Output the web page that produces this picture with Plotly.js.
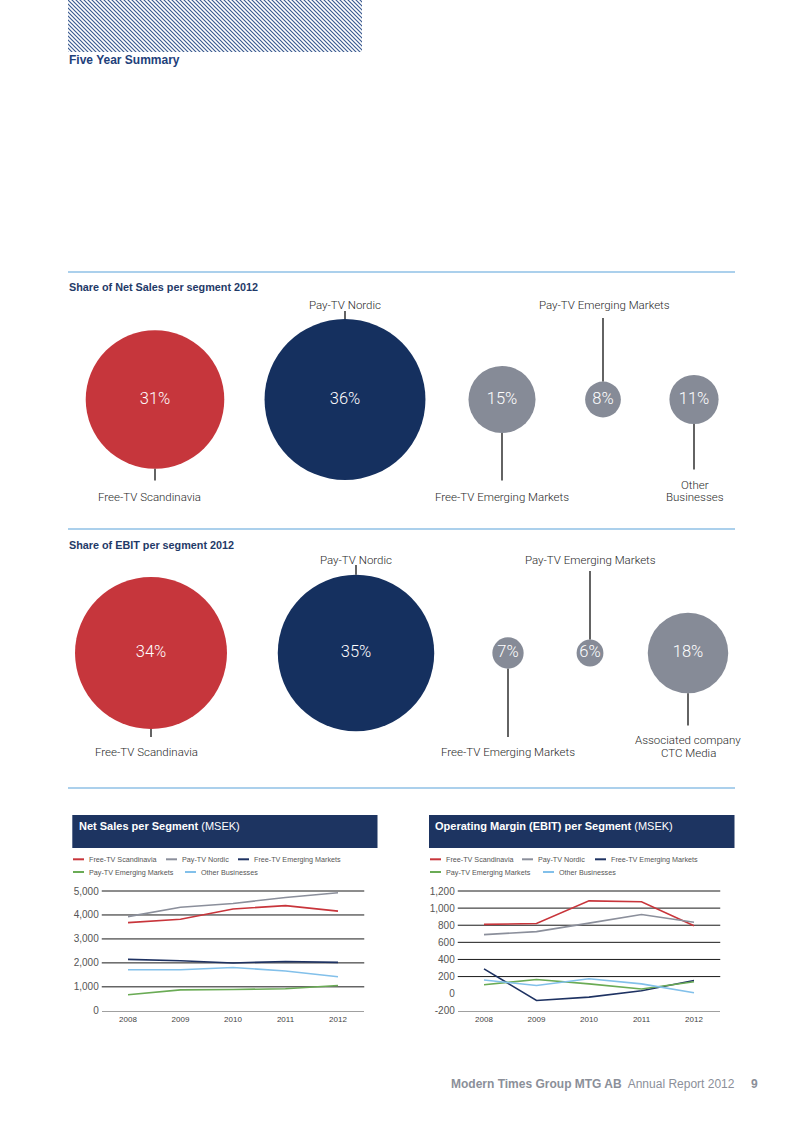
<!DOCTYPE html>
<html><head><meta charset="utf-8">
<script src="https://cdn.plot.ly/plotly-3.0.1.min.js"></script>
<style>html,body{margin:0;padding:0;background:#fff}#chart{width:800px;height:1131px}</style>
</head><body><div id="chart"></div>
<script>
// ---------------- DATA ----------------
const years = [2008, 2009, 2010, 2011, 2012];
const segments = ['Free-TV Scandinavia', 'Pay-TV Nordic', 'Free-TV Emerging Markets', 'Pay-TV Emerging Markets', 'Other Businesses'];

const salesFreeTVScan  = [3680, 3820, 4250, 4390, 4160];
const salesPayTVNordic = [3930, 4320, 4480, 4730, 4930];
const salesFreeTVEM    = [2145, 2090, 1995, 2060, 2020];
const salesPayTVEM     = [670, 875, 890, 920, 1055];
const salesOther       = [1715, 1715, 1810, 1660, 1420];

const ebitFreeTVScan  = [810, 820, 1085, 1075, 795];
const ebitPayTVNordic = [690, 725, 825, 925, 835];
const ebitFreeTVEM    = [290, -80, -40, 35, 155];
const ebitPayTVEM     = [105, 165, 115, 55, 140];
const ebitOther       = [160, 95, 175, 115, 10];

const salesShareLabels = [['Free-TV Scandinavia'], ['Pay-TV Nordic'], ['Free-TV Emerging Markets'], ['Pay-TV Emerging Markets'], ['Other', 'Businesses']];
const salesShares = [31, 36, 15, 8, 11];
const ebitShareLabels = [['Free-TV Scandinavia'], ['Pay-TV Nordic'], ['Free-TV Emerging Markets'], ['Pay-TV Emerging Markets'], ['Associated company', 'CTC Media']];
const ebitShares = [34, 35, 7, 6, 18];

const salesTicks = [0, 1000, 2000, 3000, 4000, 5000];
const salesTickText = ['0', '1,000', '2,000', '3,000', '4,000', '5,000'];
const ebitTicks = [-200, 0, 200, 400, 600, 800, 1000, 1200];
const ebitTickText = ['-200', '0', '200', '400', '600', '800', '1,000', '1,200'];

// ---------------- STYLE / LAYOUT ----------------
const W = 800, H = 1131;
const FONT = '"Liberation Sans", Arial, Helvetica, sans-serif';
const LIGHT = 'Roboto, "Liberation Sans", Arial, sans-serif';
const NAVY_TXT = '#1f3a68';
const lineColors = ['#c8353b', '#8b8f9b', '#1e3262', '#6aab55', '#82c0ea'];
const bubbleColors = ['#c6363c', '#15305f', '#868b97', '#868b97', '#868b97'];
const bubbleScale = 4.47; // px diameter per percent

const salesRow = {
  cy: 399.5, cx: [155, 345, 502, 603, 694],
  side: ['bottom', 'top', 'bottom', 'top', 'bottom'],
  labelX: [149, 345, 502, 604, 695], labelY: [497, 305, 497, 305, 484.5],
  lineOuter: [480.5, 311, 480.5, 318, 469.5]
};
const ebitRow = {
  cy: 653, cx: [151, 356, 508, 590, 688],
  side: ['bottom', 'top', 'bottom', 'top', 'bottom'],
  labelX: [146, 356, 508, 590, 688], labelY: [752, 560, 752, 560, 740],
  lineOuter: [737, 565, 737, 571, 725.5]
};

const traces = [];
const shapes = [];
const annotations = [];

function txt(x, y, text, size, color, opts, family, weight) {
  annotations.push(Object.assign({
    xref: 'x', yref: 'y', x: x, y: y, text: text, showarrow: false,
    font: {family: family || FONT, size: size, color: color, weight: weight || 'normal'},
    xanchor: 'center', yanchor: 'middle', borderpad: 0
  }, opts || {}));
}
function hline(x0, x1, y, color, width) {
  shapes.push({type: 'line', xref: 'x', yref: 'y', x0: x0, x1: x1, y0: y, y1: y, line: {color: color, width: width}});
}
function vline(x, y0, y1, color, width) {
  shapes.push({type: 'line', xref: 'x', yref: 'y', x0: x, x1: x, y0: y0, y1: y1, line: {color: color, width: width}});
}

// header + section rules
txt(68, 60, '<b>Five Year Summary</b>', 12, '#22407a', {xanchor: 'left'});
[272, 529, 788].forEach(y => hline(68, 735, y, '#8fc1e6', 1.3));
txt(68, 287, '<b>Share of Net Sales per segment 2012</b>', 10.8, NAVY_TXT, {xanchor: 'left'});
txt(68, 545, '<b>Share of EBIT per segment 2012</b>', 10.8, NAVY_TXT, {xanchor: 'left'});

// bubble rows
function bubbleRow(row, shares, labels) {
  traces.push({
    type: 'scatter', mode: 'markers+text', xaxis: 'x', yaxis: 'y',
    x: row.cx, y: row.cx.map(() => row.cy),
    text: shares.map(s => s + '%'), textposition: 'middle center',
    textfont: {family: LIGHT, size: 16.5, color: '#ffffff', weight: 300},
    marker: {size: shares.map(s => s * bubbleScale), sizemode: 'diameter', color: bubbleColors, line: {width: 0}, opacity: 1},
    hoverinfo: 'skip', showlegend: false, cliponaxis: false
  });
  shares.forEach((s, i) => {
    const r = s * bubbleScale / 2;
    const edge = row.side[i] === 'top' ? row.cy - r : row.cy + r;
    vline(row.cx[i], row.lineOuter[i], edge, '#222', 1.4);
    labels[i].forEach((l, k) => txt(row.labelX[i], row.labelY[i] + k * 12.5, l, 11.5, '#2a2a2a', null, LIGHT, 300));
  });
}
bubbleRow(salesRow, salesShares, salesShareLabels);
bubbleRow(ebitRow, ebitShares, ebitShareLabels);

// line charts
const charts = [
  {ax: '2', boxX0: 72.3, boxX1: 377.5, plotX0: 101.75, plotX1: 364.25,
   title: '<b>Net Sales per Segment</b> (MSEK)', titleX: 78,
   series: [salesFreeTVScan, salesPayTVNordic, salesFreeTVEM, salesPayTVEM, salesOther],
   ticks: salesTicks, tickText: salesTickText,
   legX: [73, 166, 238, 73, 185]},
  {ax: '3', boxX0: 429, boxX1: 734.5, plotX0: 457.75, plotX1: 720.25,
   title: '<b>Operating Margin (EBIT) per Segment</b> (MSEK)', titleX: 434,
   series: [ebitFreeTVScan, ebitPayTVNordic, ebitFreeTVEM, ebitPayTVEM, ebitOther],
   ticks: ebitTicks, tickText: ebitTickText,
   legX: [430, 522, 595, 430, 543]}
];
const legRowY = [859.3, 872];
const legRow = [0, 0, 0, 1, 1];
const plotTopPx = 891, plotBottomPx = 1010.8;

const layout = {
  width: W, height: H, margin: {l: 0, r: 0, t: 0, b: 0, pad: 0},
  paper_bgcolor: '#ffffff', plot_bgcolor: 'rgba(0,0,0,0)',
  showlegend: false, hovermode: false,
  xaxis: {domain: [0, 1], range: [0, W], visible: false, fixedrange: true},
  yaxis: {domain: [0, 1], range: [H, 0], visible: false, fixedrange: true},
  images: [],
  shapes: shapes, annotations: annotations
};

charts.forEach(c => {
  const tmin = c.ticks[0], tmax = c.ticks[c.ticks.length - 1];
  const pxPerUnit = (plotBottomPx - plotTopPx) / (tmax - tmin);
  const pad = (tmax - tmin) * 0.012;
  const topPx = plotTopPx - pad * pxPerUnit;
  layout['xaxis' + c.ax] = {
    domain: [c.plotX0 / W, c.plotX1 / W], range: [2007.5, 2012.5], anchor: 'y' + c.ax,
    tickvals: years, ticktext: years.map(String), ticks: '', showgrid: false, zeroline: false,
    showline: true, linecolor: '#a0a0a0', linewidth: 1.5,
    tickfont: {family: FONT, size: 8, color: '#444'}, fixedrange: true
  };
  layout['yaxis' + c.ax] = {
    domain: [1 - plotBottomPx / H, 1 - topPx / H], range: [tmin, tmax + pad], anchor: 'x' + c.ax,
    tickvals: c.ticks, ticktext: c.tickText, ticks: '', showgrid: false, zeroline: false, showline: false,
    tickfont: {family: FONT, size: 10, color: '#555'}, ticklabelstandoff: 2, fixedrange: true
  };
  // header box
  shapes.push({type: 'rect', xref: 'x', yref: 'y', x0: c.boxX0, x1: c.boxX1, y0: 815, y1: 848,
    fillcolor: '#1d3461', line: {width: 0}, layer: 'below'});
  txt(c.titleX, 826, c.title, 11, '#ffffff', {xanchor: 'left'});
  // gridlines
  c.ticks.filter(v => v !== 0 && v !== tmin).forEach(v => {
    shapes.push({type: 'line', xref: 'x' + c.ax + ' domain', yref: 'y' + c.ax, x0: 0, x1: 1, y0: v, y1: v,
      line: {color: '#1a1a1a', width: 1}, layer: 'below'});
  });
  // series
  c.series.forEach((vals, i) => {
    traces.push({
      type: 'scatter', mode: 'lines', xaxis: 'x' + c.ax, yaxis: 'y' + c.ax,
      x: years, y: vals, name: segments[i],
      line: {color: lineColors[i], width: 1.6}, hoverinfo: 'skip', showlegend: false
    });
    // manual legend
    const ly = legRowY[legRow[i]];
    hline(c.legX[i], c.legX[i] + 11, ly, lineColors[i], 2);
    txt(c.legX[i] + 14.5, ly, segments[i], 7.2, '#555', {xanchor: 'left'});
  });
});

// hatched header block
const hatchSvg = "<svg xmlns='http://www.w3.org/2000/svg' width='294' height='52'>" +
  "<defs><pattern id='p' width='4' height='4' patternUnits='userSpaceOnUse'>" +
  "<path d='M-1,-1 L5,5 M-1,3 L1,5 M3,-1 L5,1' stroke='#3a5a90' stroke-width='1.15'/></pattern></defs>" +
  "<rect width='294' height='52' fill='url(#p)'/></svg>";
layout.images.push({
  source: 'data:image/svg+xml;charset=utf-8,' + encodeURIComponent(hatchSvg),
  xref: 'paper', yref: 'paper', x: 68 / W, y: 1, sizex: 294 / W, sizey: 52 / H,
  xanchor: 'left', yanchor: 'top', sizing: 'stretch', layer: 'below'
});

// footer
txt(736, 1084, '<b>Modern Times Group MTG AB</b>  Annual Report 2012', 12, '#8b8f99', {xanchor: 'right'});
txt(759, 1084, '<b>9</b>', 12, '#8b8f99', {xanchor: 'right'});

Plotly.newPlot('chart', traces, layout, {staticPlot: true, displayModeBar: false});
</script>
</body></html>
